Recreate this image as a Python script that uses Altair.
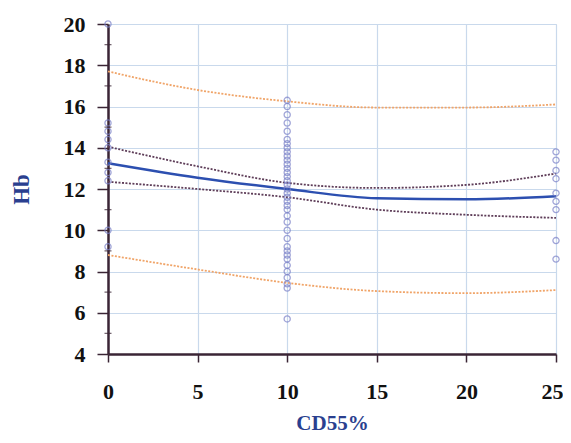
import altair as alt
import pandas as pd

# scatter data
x0_vals = [20.0, 15.2, 14.8, 14.4, 14.0, 13.3, 12.8, 12.4, 10.0, 9.2]
x10_vals = [16.3, 16.0, 15.6, 15.2, 14.8, 14.4, 14.2, 14.0, 13.8, 13.6, 13.4, 13.2,
            13.0, 12.8, 12.6, 12.4, 12.2, 12.0, 11.8, 11.6, 11.4, 11.2, 11.0, 10.7,
            10.4, 10.0, 9.6, 9.2, 9.0, 8.8, 8.6, 8.3, 8.0, 7.7, 7.4, 7.2, 5.7]
x25_vals = [13.8, 13.4, 12.9, 12.5, 11.8, 11.4, 11.0, 9.5, 8.6]

# fitted curves (read at x = 0,5,10,15,20,25)
curve_x = [0, 5, 10, 15, 20, 25]
mean_y = [13.25, 12.55, 12.0, 11.55, 11.5, 11.65]
conf_up = [14.05, 13.1, 12.3, 12.05, 12.2, 12.75]
conf_lo = [12.35, 12.0, 11.6, 11.0, 10.75, 10.6]
pred_up = [17.7, 16.8, 16.25, 15.95, 15.95, 16.1]
pred_lo = [8.8, 8.1, 7.45, 7.05, 6.95, 7.1]

y_ticks = [4, 6, 8, 10, 12, 14, 16, 18, 20]
y_minor = [5, 7, 9, 11, 13, 15, 17, 19]
x_ticks = [0, 5, 10, 15, 20, 25]

pts = pd.DataFrame(
    [{"x": 0, "y": v} for v in x0_vals]
    + [{"x": 10, "y": v} for v in x10_vals]
    + [{"x": 25, "y": v} for v in x25_vals]
)

rows = []
for name, ys in [("mean", mean_y), ("cu", conf_up), ("cl", conf_lo), ("pu", pred_up), ("pl", pred_lo)]:
    for xv, yv in zip(curve_x, ys):
        rows.append({"x": xv, "y": yv, "s": name})
curves = pd.DataFrame(rows)

xs = alt.Scale(domain=[0, 25], nice=False, zero=False)
ys_ = alt.Scale(domain=[4, 20], nice=False, zero=False)

label_font = "Liberation Serif"
axis_col = "#3a2535"

x_axis = alt.Axis(values=x_ticks, title="CD55%", grid=True, gridColor="#c9d9ec", gridWidth=1.2,
                  domainColor=axis_col, domainWidth=2.5, tickColor=axis_col, tickSize=8, tickWidth=1.5,
                  labelFont=label_font, labelFontSize=22, labelFontWeight="bold", labelColor="#111",
                  labelPadding=19,
                  labelAlign={"condition": {"test": "datum.value == 25", "value": "right"}, "value": "center"},
                  labelOffset={"condition": {"test": "datum.value == 25", "value": 7}, "value": 0},
                  titleFont=label_font, titleFontSize=21, titleFontWeight="bold",
                  titleColor="#2a3f8f", titlePadding=10, labelFlush=False)
y_axis = alt.Axis(values=y_ticks, title="Hb", grid=True, gridColor="#c9d9ec", gridWidth=1.2,
                  domainColor=axis_col, domainWidth=2.5, tickColor=axis_col, tickSize=11, tickWidth=1.5,
                  labelFont=label_font, labelFontSize=22, labelFontWeight="bold", labelColor="#111",
                  labelPadding=12, titleFont=label_font, titleFontSize=23, titleFontWeight="bold",
                  titleColor="#2a3f8f", titlePadding=30, labelFlush=False)

base_curve = alt.Chart(curves)

mean_line = base_curve.transform_filter(alt.datum.s == "mean").mark_line(
    color="#2c4fb0", strokeWidth=2.5, interpolate="monotone"
).encode(x=alt.X("x:Q", scale=xs, axis=x_axis), y=alt.Y("y:Q", scale=ys_, axis=y_axis))

conf_lines = base_curve.transform_filter((alt.datum.s == "cu") | (alt.datum.s == "cl")).mark_line(
    color="#5e3d58", strokeWidth=1.8, strokeDash=[2, 1.5], interpolate="monotone"
).encode(x=alt.X("x:Q", scale=xs), y=alt.Y("y:Q", scale=ys_), detail="s:N")

pred_lines = base_curve.transform_filter((alt.datum.s == "pu") | (alt.datum.s == "pl")).mark_line(
    color="#f0a468", strokeWidth=1.8, strokeDash=[2, 1.5], interpolate="monotone"
).encode(x=alt.X("x:Q", scale=xs), y=alt.Y("y:Q", scale=ys_), detail="s:N")

points = alt.Chart(pts).mark_point(
    shape="circle", filled=False, size=38, color="#7a80c8", strokeWidth=1.3, clip=False
).encode(x=alt.X("x:Q", scale=xs), y=alt.Y("y:Q", scale=ys_))

minor = alt.Chart(pd.DataFrame({"y": y_minor, "x": [0] * len(y_minor)})).mark_tick(
    orient="horizontal", size=7, thickness=1.3, color=axis_col, clip=False
).encode(x=alt.X("x:Q", scale=xs), y=alt.Y("y:Q", scale=ys_))

chart = alt.layer(pred_lines, conf_lines, mean_line, points, minor).properties(
    width=448, height=330,
    autosize=alt.AutoSizeParams(type="none"),
    padding={"left": 100, "top": 16, "right": 7, "bottom": 81},
).configure_view(stroke=None).configure(background="white")

chart.save("out.html", embed_options={"renderer": "svg", "actions": False})
